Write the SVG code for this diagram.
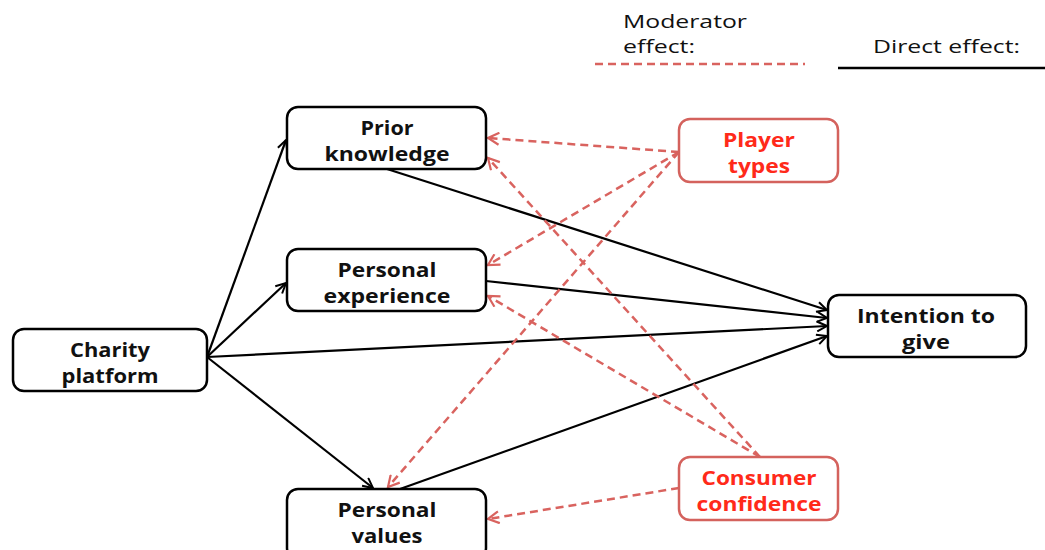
<svg xmlns="http://www.w3.org/2000/svg" width="1045" height="550" viewBox="0 0 1045 550">
<style>
.box{fill:#fff;stroke:#000;stroke-width:2.5}
.rbox{fill:#fff;stroke:#d4625d;stroke-width:2.5}
.t{font-family:"Open Sans","Liberation Sans",sans-serif;font-weight:bold;font-size:19px;text-anchor:middle;fill:#111}
.rt{font-family:"Open Sans","Liberation Sans",sans-serif;font-weight:bold;font-size:19px;text-anchor:middle;fill:#ff2a1a}
.lg{font-family:"Open Sans","Liberation Sans",sans-serif;font-size:18px;fill:#111}
.d{stroke:#000;stroke-width:2.2;fill:none;marker-end:url(#ah)}
.m{stroke:#d9635f;stroke-width:2.5;fill:none;stroke-dasharray:8,5;marker-end:url(#rh)}
</style>
<defs>
<marker id="ah" viewBox="0 0 12 12" refX="11" refY="6" markerWidth="12" markerHeight="12" markerUnits="userSpaceOnUse" orient="auto">
<path d="M1,1 L11,6 L1,11" fill="none" stroke="#000" stroke-width="2"/>
</marker>
<marker id="rh" viewBox="0 0 14 14" refX="12" refY="7" markerWidth="14" markerHeight="14" markerUnits="userSpaceOnUse" orient="auto">
<path d="M1,1 L12,7 L1,13" fill="none" stroke="#d9635f" stroke-width="2.2"/>
</marker>
</defs>
<g id="legend">
<text class="lg" x="623" y="28" textLength="124" lengthAdjust="spacingAndGlyphs">Moderator</text>
<text class="lg" x="623" y="53" textLength="72" lengthAdjust="spacingAndGlyphs">effect:</text>
<line x1="595" y1="64" x2="805" y2="64" stroke="#d9635f" stroke-width="2.5" stroke-dasharray="8,5"/>
<text class="lg" x="873" y="53" textLength="147" lengthAdjust="spacingAndGlyphs">Direct effect:</text>
<line x1="838" y1="68" x2="1045" y2="68" stroke="#000" stroke-width="2.5"/>
</g>
<g id="connectors">
<line class="d" x1="207" y1="357" x2="286" y2="140"/>
<line class="d" x1="207" y1="357" x2="286" y2="283"/>
<line class="d" x1="207" y1="357" x2="827" y2="326"/>
<line class="d" x1="207" y1="357" x2="373" y2="488"/>
<line class="d" x1="387" y1="169" x2="827" y2="310"/>
<line class="d" x1="486" y1="281" x2="827" y2="318"/>
<line class="d" x1="400" y1="489" x2="827" y2="336"/>
<line class="m" x1="679" y1="152" x2="488" y2="138"/>
<line class="m" x1="679" y1="152" x2="488" y2="265"/>
<line class="m" x1="679" y1="152" x2="388" y2="487"/>
<line class="m" x1="760" y1="457" x2="488" y2="158"/>
<line class="m" x1="760" y1="457" x2="488" y2="296"/>
<line class="m" x1="679" y1="488" x2="488" y2="519"/>
</g>
<g id="prior-knowledge">
<rect class="box" x="287" y="107" width="199" height="62" rx="11"/>
<text class="t" x="387" y="135" textLength="53" lengthAdjust="spacingAndGlyphs">Prior</text>
<text class="t" x="387" y="161" textLength="125" lengthAdjust="spacingAndGlyphs">knowledge</text>
</g>
<g id="personal-experience">
<rect class="box" x="287" y="249" width="199" height="62" rx="11"/>
<text class="t" x="387" y="277" textLength="99" lengthAdjust="spacingAndGlyphs">Personal</text>
<text class="t" x="387" y="303" textLength="127" lengthAdjust="spacingAndGlyphs">experience</text>
</g>
<g id="personal-values">
<rect class="box" x="287" y="489" width="199" height="70" rx="11"/>
<text class="t" x="387" y="517" textLength="99" lengthAdjust="spacingAndGlyphs">Personal</text>
<text class="t" x="387" y="543" textLength="71" lengthAdjust="spacingAndGlyphs">values</text>
</g>
<g id="charity-platform">
<rect class="box" x="13" y="329" width="194" height="62" rx="11"/>
<text class="t" x="110" y="357" textLength="80" lengthAdjust="spacingAndGlyphs">Charity</text>
<text class="t" x="110" y="383" textLength="97" lengthAdjust="spacingAndGlyphs">platform</text>
</g>
<g id="intention-to-give">
<rect class="box" x="828" y="295" width="198" height="62" rx="11"/>
<text class="t" x="926" y="323" textLength="138" lengthAdjust="spacingAndGlyphs">Intention to</text>
<text class="t" x="926" y="349" textLength="48" lengthAdjust="spacingAndGlyphs">give</text>
</g>
<g id="player-types">
<rect class="rbox" x="679" y="119" width="159" height="63" rx="11"/>
<text class="rt" x="759" y="147" textLength="72" lengthAdjust="spacingAndGlyphs">Player</text>
<text class="rt" x="759" y="173" textLength="62" lengthAdjust="spacingAndGlyphs">types</text>
</g>
<g id="consumer-confidence">
<rect class="rbox" x="679" y="457" width="159" height="63" rx="11"/>
<text class="rt" x="759" y="485" textLength="115" lengthAdjust="spacingAndGlyphs">Consumer</text>
<text class="rt" x="759" y="511" textLength="125" lengthAdjust="spacingAndGlyphs">confidence</text>
</g>
</svg>
